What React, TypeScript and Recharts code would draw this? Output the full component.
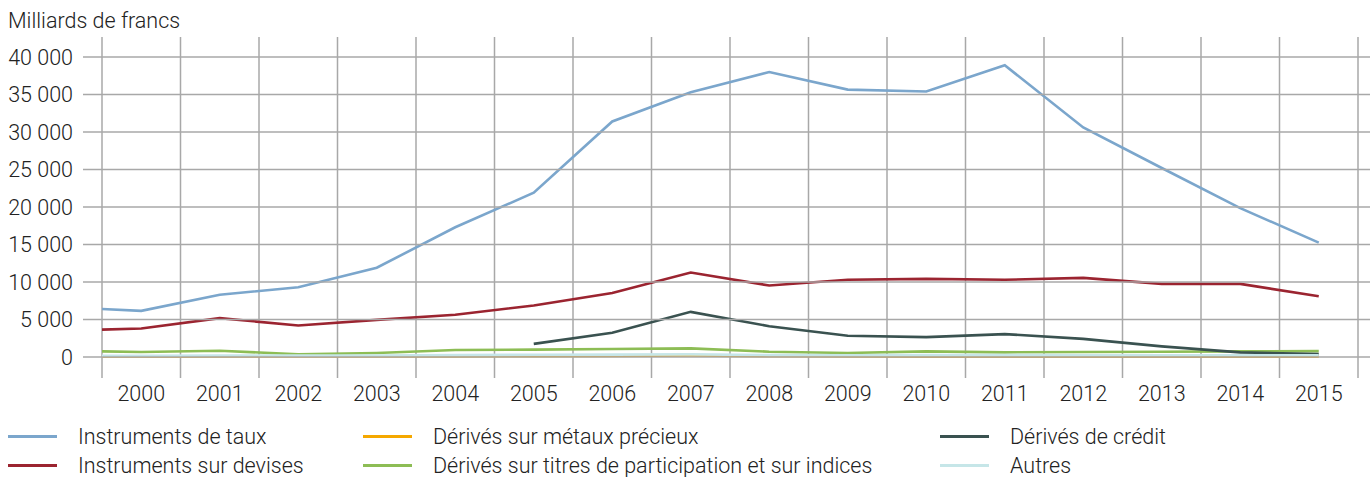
import React from "react";
import {
  LineChart,
  Line,
  XAxis,
  YAxis,
  CartesianGrid,
  Legend,
} from "recharts";

// x positions: the first entry is the left edge of the 2000 band
const xValues = [1999.5, 2000, 2001, 2002, 2003, 2004, 2005, 2006, 2007, 2008, 2009, 2010, 2011, 2012, 2013, 2014, 2015];
const years = [2000, 2001, 2002, 2003, 2004, 2005, 2006, 2007, 2008, 2009, 2010, 2011, 2012, 2013, 2014, 2015];
const yTicks = [0, 5000, 10000, 15000, 20000, 25000, 30000, 35000, 40000];

const taux = [6400, 6150, 8300, 9300, 11900, 17300, 21900, 31400, 35300, 38000, 35650, 35400, 38900, 30600, 25200, 19850, 15250];
const devises = [3650, 3800, 5180, 4200, 4950, 5630, 6870, 8520, 11270, 9530, 10300, 10420, 10300, 10550, 9750, 9750, 8100];
const metaux = [50, 50, 60, 60, 60, 80, 100, 150, 200, 100, 60, 50, 50, 50, 50, 50, 50];
const titres = [750, 660, 840, 350, 530, 930, 980, 1070, 1150, 710, 530, 750, 620, 660, 710, 750, 780];
const credit = [null, null, null, null, null, null, 1750, 3230, 6020, 4100, 2830, 2650, 3050, 2420, 1420, 620, 400];
const autres = [150, 150, 200, 180, 200, 250, 300, 320, 350, 250, 230, 250, 250, 240, 240, 230, 230];

const series = [
  { key: "taux", name: "Instruments de taux", color: "#7ba6cc", values: taux },
  { key: "devises", name: "Instruments sur devises", color: "#9b2430", values: devises },
  { key: "metaux", name: "Dérivés sur métaux précieux", color: "#f5a800", values: metaux },
  { key: "titres", name: "Dérivés sur titres de participation et sur indices", color: "#8dbd55", values: titres },
  { key: "credit", name: "Dérivés de crédit", color: "#3a5250", values: credit },
  { key: "autres", name: "Autres", color: "#c6e6e8", values: autres },
];

const data = xValues.map((x, i) => {
  const row: Record<string, number | null> = { x };
  series.forEach((s) => {
    row[s.key] = s.values[i];
  });
  return row;
});

const boundaries = [...years.map((y) => y - 0.5), years[years.length - 1] + 0.5];

const W = 1370;
const H = 477;
const FONT = "Roboto, 'Helvetica Neue', Arial, sans-serif";
const FS = 21.5;
const GRID = "#a8a8a8";

const fmt = (v: number) => String(v).replace(/\B(?=(\d{3})+(?!\d))/g, " ");

const YTick = (props: any) => {
  const { x, y, payload } = props;
  return (
    <g>
      <line x1={x + 10} x2={W} y1={y} y2={y} stroke={GRID} strokeWidth={1.5} />
      <text x={x} y={y} dy="0.35em" textAnchor="end" fill="#222" fontSize={FS} fontWeight={300} fontFamily={FONT}>
        {fmt(payload.value)}
      </text>
    </g>
  );
};

// legend built from the series list so the order stays as in the source
const LegendBox = () => (
  <div
    style={{
      display: "grid",
      gridAutoFlow: "column",
      gridTemplateRows: "29px 29px",
      gridTemplateColumns: "355px 577px 400px",
      paddingLeft: 8,
      fontFamily: FONT,
      fontWeight: 300,
      fontSize: FS,
      color: "#222",
    }}
  >
    {series.map((s) => (
      <div key={s.key} style={{ display: "flex", alignItems: "center", height: 29, whiteSpace: "nowrap" }}>
        <span style={{ display: "inline-block", width: 49, height: 3, background: s.color, marginRight: 21 }} />
        <span>{s.name}</span>
      </div>
    ))}
  </div>
);

const verticalLines = ({ xAxis, offset }: any) => {
  const lo = boundaries[0];
  const hi = boundaries[boundaries.length - 1];
  return boundaries.map((b) =>
    xAxis && typeof xAxis.scale === "function"
      ? xAxis.scale(b)
      : offset.left + ((b - lo) / (hi - lo)) * offset.width
  );
};

const App: React.FC = () => {
  return (
    <div style={{ position: "absolute", left: 0, top: 0, width: W, height: H, background: "#fff" }}>
      <LineChart width={W} height={H} data={data} margin={{ top: 37, right: 12, left: 0, bottom: 59 }}>
        <CartesianGrid
          horizontal={false}
          stroke={GRID}
          strokeWidth={1.5}
          verticalCoordinatesGenerator={verticalLines}
        />
        <XAxis
          dataKey="x"
          type="number"
          domain={[boundaries[0], boundaries[boundaries.length - 1]]}
          ticks={years}
          interval={0}
          axisLine={false}
          tickLine={false}
          tickSize={0}
          tickMargin={8}
          height={40}
          tick={{ fill: "#222", fontSize: FS, fontWeight: 300, fontFamily: FONT }}
        />
        <YAxis
          width={102}
          domain={[-2800, 42667]}
          ticks={yTicks}
          allowDataOverflow
          axisLine={false}
          tickLine={false}
          tickSize={0}
          tickMargin={29}
          tick={<YTick />}
          label={{
            content: () => (
              <text x={8} y={28} fill="#222" fontSize={FS} fontWeight={300} fontFamily={FONT}>
                Milliards de francs
              </text>
            ),
          }}
        />
        <Legend
          verticalAlign="middle"
          align="center"
          content={<LegendBox />}
          wrapperStyle={{ top: 422, left: 0, width: W, height: 58 }}
        />
        {series.map((s) => (
          <Line
            key={s.key}
            type="linear"
            dataKey={s.key}
            name={s.name}
            stroke={s.color}
            strokeWidth={2.6}
            dot={false}
            activeDot={false}
            connectNulls={false}
            isAnimationActive={false}
          />
        ))}
      </LineChart>
    </div>
  );
};

export default App;
